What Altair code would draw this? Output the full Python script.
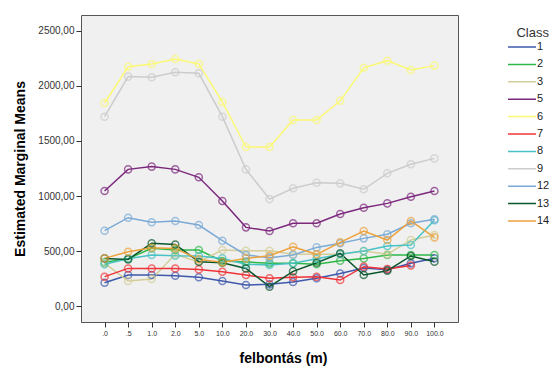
import altair as alt
import pandas as pd

categories = [".0", ".5", "1.0", "2.0", "5.0", "10.0", "20.0", "30.0", "40.0", "50.0",
              "60.0", "70.0", "80.0", "90.0", "100.0"]
classes = ["1", "2", "3", "5", "6", "7", "8", "9", "12", "13", "14"]

s1 = [212, 282, 282, 276, 262, 227, 191, 197, 218, 252, 295, 345, 330, 388, 435]
s2 = [397, 430, 525, 510, 509, 409, 400, 388, 388, 380, 412, 433, 464, 464, 464]
s3 = [390, 227, 245, 470, 400, 510, 503, 503, 470, 470, 470, 500, 470, 600, 645]
s5 = [1045, 1242, 1267, 1242, 1170, 955, 715, 682, 752, 752, 836, 894, 933, 994, 1045]
s6 = [1845, 2175, 2200, 2245, 2200, 1855, 1445, 1445, 1690, 1690, 1865, 2165, 2230, 2145, 2185]
s7 = [267, 342, 342, 342, 333, 312, 282, 252, 261, 267, 236, 358, 336, 368]
s8 = [379, 430, 464, 457, 455, 433, 379, 373, 388, 430, 470, 500, 545, 555, 780]
s9 = [1721, 2085, 2079, 2124, 2115, 1721, 1242, 972, 1070, 1121, 1115, 1061, 1206, 1288, 1342]
s12 = [685, 803, 761, 773, 736, 594, 464, 440, 464, 533, 570, 615, 652, 752, 788]
s13 = [433, 424, 570, 560, 403, 394, 342, 176, 315, 394, 479, 282, 321, 455, 403]
s14 = [433, 494, 530, 524, 424, 397, 433, 457, 539, 470, 579, 682, 600, 773, 624]

series = [s1, s2, s3, s5, s6, s7, s8, s9, s12, s13, s14]
colors = ["#3E58AC", "#2EB848", "#D3CE97", "#7C287D", "#FBF873", "#EF3338",
          "#48C2C5", "#CCCCCC", "#7AAAD5", "#0A562C", "#EDA23C"]

rows = []
for c, vals in zip(classes, series):
    for cat, v in zip(categories, vals):
        rows.append({"felbontas": cat, "value": v, "Class": c})
df = pd.DataFrame(rows)

font = "Liberation Sans"

x = alt.X("felbontas:N", sort=categories,
          scale=alt.Scale(type="point", padding=1.32),
          axis=alt.Axis(title="felbontás (m)", labelAngle=0, labelFontSize=7,
                        labelColor="#333", tickSize=5, tickColor="#333", domain=False,
                        titleFontSize=14, titleFontWeight="bold", titleFont=font,
                        titleX=202, titleY=29, titleBaseline="top", labelFont=font))
y = alt.Y("value:Q", scale=alt.Scale(domain=[-145, 2645], nice=False, zero=False),
          axis=alt.Axis(title="Estimated Marginal Means", values=[0, 500, 1000, 1500, 2000, 2500],
                        labelExpr="replace(format(datum.value, '.2f'), '.', ',')",
                        labelFontSize=10, labelColor="#333", labelFont=font,
                        tickSize=5, tickColor="#333", grid=False, domain=False,
                        titleFontSize=14, titleFontWeight="bold", titleFont=font,
                        titlePadding=10))
color = alt.Color("Class:N", sort=classes,
                  scale=alt.Scale(domain=classes, range=colors),
                  legend=alt.Legend(orient="none", legendX=426, legendY=12,
                                    title="Class", titleFontSize=13, titleFontWeight="normal",
                                    titleFont=font, titleColor="#333",
                                    titleAnchor="end", titleAlign="right", titlePadding=0,
                                    labelFont=font, labelFontSize=11, labelColor="#222",
                                    symbolType="stroke", symbolSize=784, symbolStrokeWidth=1.5,
                                    labelOffset=0, clipHeight=14, rowPadding=3.4))

lines = alt.Chart(df).mark_line(strokeWidth=1.5).encode(x=x, y=y, color=color, detail="Class:N")
points = alt.Chart(df).mark_point(filled=False, size=50, strokeWidth=1.5).encode(
    x=x, y=y, color=alt.Color("Class:N", sort=classes,
                              scale=alt.Scale(domain=classes, range=colors), legend=None))

chart = alt.layer(lines, points).properties(
    width=377, height=307,
    autosize=alt.AutoSizeParams(type="none"),
    padding={"left": 73, "top": 7, "right": 92, "bottom": 50},
    background="white",
).configure_view(fill="#F0F0F0", stroke="#555", strokeWidth=1)

chart.save("out.html", embed_options={"renderer": "svg", "actions": False})
